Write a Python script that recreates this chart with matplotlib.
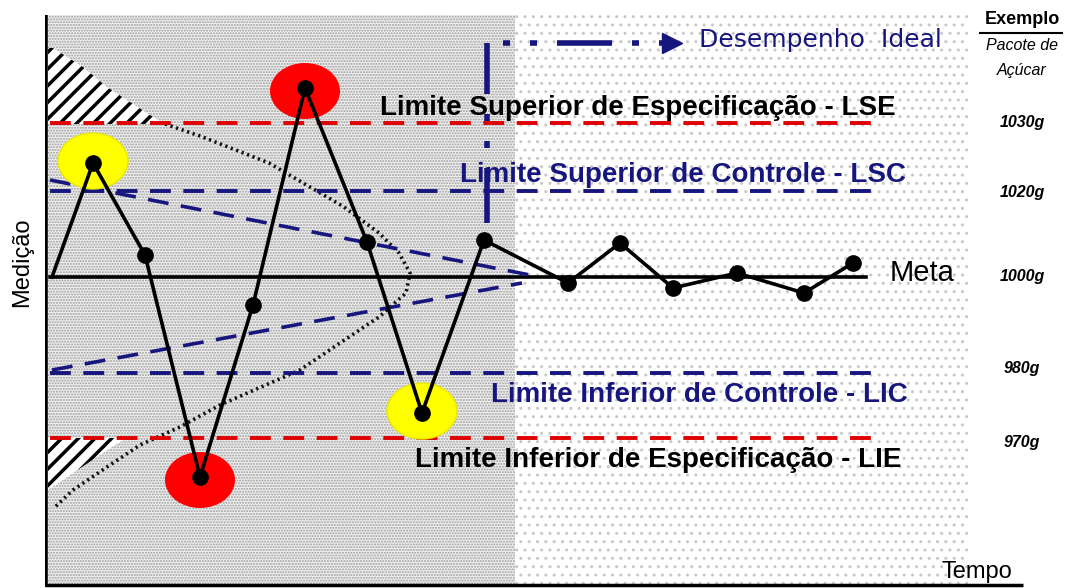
import matplotlib
matplotlib.use('Agg')
import matplotlib.pyplot as plt
from matplotlib.patches import Rectangle, Ellipse
import numpy as np

plt.rcParams['lines.scale_dashes'] = False
plt.rcParams['hatch.linewidth'] = 1.0

# ---------------- data (units) ----------------
tempo   = [7, 48, 100, 155, 208, 260, 322, 377, 439, 523, 575, 628, 692, 759, 808]
medicao = [0, 114, 22, -200, -28, 189, 35, -136, 37, -6, 34, -11, 4, -16, 14]
alerta_idx = [1, 7]          # yellow highlighted points
fora_idx   = [3, 5]          # red highlighted points

lim_nomes = ['LSE', 'LSC', 'Meta', 'LIC', 'LIE']
lim_valores = [154, 86, 0, -96, -161]
gramas = ['1030g', '1020g', '1000g', '980g', '970g']
gramas_y = [155, 85, 0, -91, -165]

curva_x = [8, 38, 62, 85, 105, 120, 155, 224, 265, 299, 334, 354, 365, 361, 334,
           295, 255, 175, 135, 95, 62, 28, 10]
curva_y = [229, 210, 190, 175, 162, 153, 141, 114, 90, 70, 44, 24, 4, -16, -40,
           -66, -93, -128, -150, -168, -190, -213, -230]

funil_sup_x, funil_sup_y = [5, 495], [97, 0]
funil_inf_x, funil_inf_y = [7, 477], [-93, -6]

ideal_v_x, ideal_v_y = [442, 442], [54, 234]
ideal_h_x, ideal_h_y = [442, 617], [234, 234]
seta_x, seta_y = [627], [234]

NAVY = '#16167e'
RED = '#e00000'

fig = plt.figure(figsize=(10.71, 5.88), dpi=100)
ax = fig.add_axes([45 / 1071, 0, 1026 / 1071, 1])
ax.set_xlim(0, 1026)
ax.set_ylim(-311, 277)
ax.axis('off')

# background textures
ax.add_patch(Rectangle((2, -308), 468, 570, facecolor='#f0f0f0', edgecolor='#9c9c9c',
                       hatch='......', lw=0, zorder=0))
ax.add_patch(Rectangle((470, -308), 453, 570, facecolor='white', edgecolor='#c8c8c8',
                       hatch='..', lw=0, zorder=0))

# hatched tails
cx = np.array(curva_x); cy = np.array(curva_y)
plt.rcParams['hatch.linewidth'] = 2.5
m_top = cy >= lim_valores[0] - 1
ax.fill_betweenx(cy[m_top], 3, cx[m_top], facecolor='white', edgecolor='black',
                 hatch='//', lw=0, zorder=1)
m_bot = cy <= lim_valores[4] + 8
ax.fill_betweenx(np.r_[lim_valores[4], cy[m_bot]], 3, np.r_[82, cx[m_bot] - 25].clip(3),
                 facecolor='white', edgecolor='black', hatch='//', lw=0, zorder=1)

# distribution curve (dotted)
ax.plot(cx[5:], cy[5:], color='#111111', lw=2.6, ls=(0, (1.6, 2.6)), zorder=2)

# limit lines
ax.plot([5, 827], [lim_valores[0]] * 2, color=RED, lw=2.8, ls=(0, (15, 9)), zorder=3)
ax.plot([5, 827], [lim_valores[1]] * 2, color=NAVY, lw=2.8, ls=(0, (15, 9)), zorder=3)
ax.plot([5, 821], [lim_valores[2]] * 2, color='black', lw=2.6, zorder=3)
ax.plot([5, 827], [lim_valores[3]] * 2, color=NAVY, lw=2.8, ls=(0, (15, 9)), zorder=3)
ax.plot([5, 827], [lim_valores[4]] * 2, color=RED, lw=2.8, ls=(0, (15, 9)), zorder=3)

# converging funnel
ax.plot(funil_sup_x, funil_sup_y, color=NAVY, lw=2.6, ls=(0, (15, 9)), zorder=3)
ax.plot(funil_inf_x, funil_inf_y, color=NAVY, lw=2.6, ls=(0, (15, 9)), zorder=3)

# ideal performance arrow
p = 0.72
patt = (0, (55 * p, 20 * p, 7 * p, 20 * p, 7 * p, 20 * p))
ax.plot(ideal_v_x, ideal_v_y, color=NAVY, lw=4, ls=patt, solid_capstyle='butt',
        dash_capstyle='butt', zorder=3)
ax.plot(ideal_h_x, ideal_h_y, color=NAVY, lw=4, ls=(59 * p, patt[1]),
        dash_capstyle='butt', zorder=3)
ax.plot(seta_x, seta_y, marker='>', color=NAVY, ms=15, ls='none', zorder=3)
ax.text(654, 237, 'Desempenho  Ideal', color=NAVY, fontsize=18, family='DejaVu Sans',
        va='center', ha='left', zorder=6)

# highlight ellipses
for i in alerta_idx:
    ax.add_patch(Ellipse((tempo[i], medicao[i] + 2), 70, 56, color='#ffff00',
                         ec='#e8e800', lw=1, zorder=4))
for i in fora_idx:
    ax.add_patch(Ellipse((tempo[i], medicao[i] - 3), 70, 56, color='#ff0000', lw=0, zorder=4))

# series
ax.plot(tempo, medicao, color='black', lw=2.6, zorder=5)
ax.plot(tempo[1:], medicao[1:], 'o', color='black', ms=11, zorder=5)

# labels
fs = 20
ax.text(851, 169, 'Limite Superior de Especificação - LSE', color='black', fontsize=fs,
        fontweight='bold', family='Liberation Sans', ha='right', va='center', zorder=6)
ax.text(861, 102, 'Limite Superior de Controle - LSC', color=NAVY, fontsize=fs,
        fontweight='bold', family='Liberation Sans', ha='right', va='center', zorder=6)
ax.text(863, -118, 'Limite Inferior de Controle - LIC', color=NAVY, fontsize=fs,
        fontweight='bold', family='Liberation Sans', ha='right', va='center', zorder=6)
ax.text(856, -183, 'Limite Inferior de Especificação - LIE', color='black', fontsize=fs,
        fontweight='bold', family='Liberation Sans', ha='right', va='center', zorder=6)
ax.text(877, 4, lim_nomes[2], color='black', fontsize=21, family='Liberation Sans',
        ha='center', va='center', zorder=6)

for g, gy in zip(gramas, gramas_y):
    ax.text(977, gy, g, fontsize=11.5, fontweight='bold', style='italic',
            family='Liberation Sans', ha='center', va='center', zorder=6)

ax.text(977, 257, 'Exemplo', fontsize=13, fontweight='bold', family='Liberation Sans',
        ha='center', va='center', zorder=6)
ax.plot([935, 1017], [244, 244], color='black', lw=1.5, zorder=6)
ax.text(977, 232, 'Pacote de', fontsize=11.5, style='italic', family='Liberation Sans',
        ha='center', va='center', zorder=6)
ax.text(977, 207, 'Açúcar', fontsize=11.5, style='italic', family='Liberation Sans',
        ha='center', va='center', zorder=6)

# axes
ax.plot([0, 0], [-310, 262], color='black', lw=4, solid_capstyle='butt', zorder=6)
ax.plot([0, 978], [-308, -308], color='black', lw=2.5, solid_capstyle='butt', zorder=6)

fig.text(22 / 1071, 1 - 262 / 588, 'Medição', rotation=90, fontsize=17,
         family='Liberation Sans', ha='center', va='center')
fig.text(977 / 1071, 1 - 572 / 588, 'Tempo', fontsize=17, family='Liberation Sans',
         ha='center', va='center')

fig.savefig('out.png', dpi=100)
